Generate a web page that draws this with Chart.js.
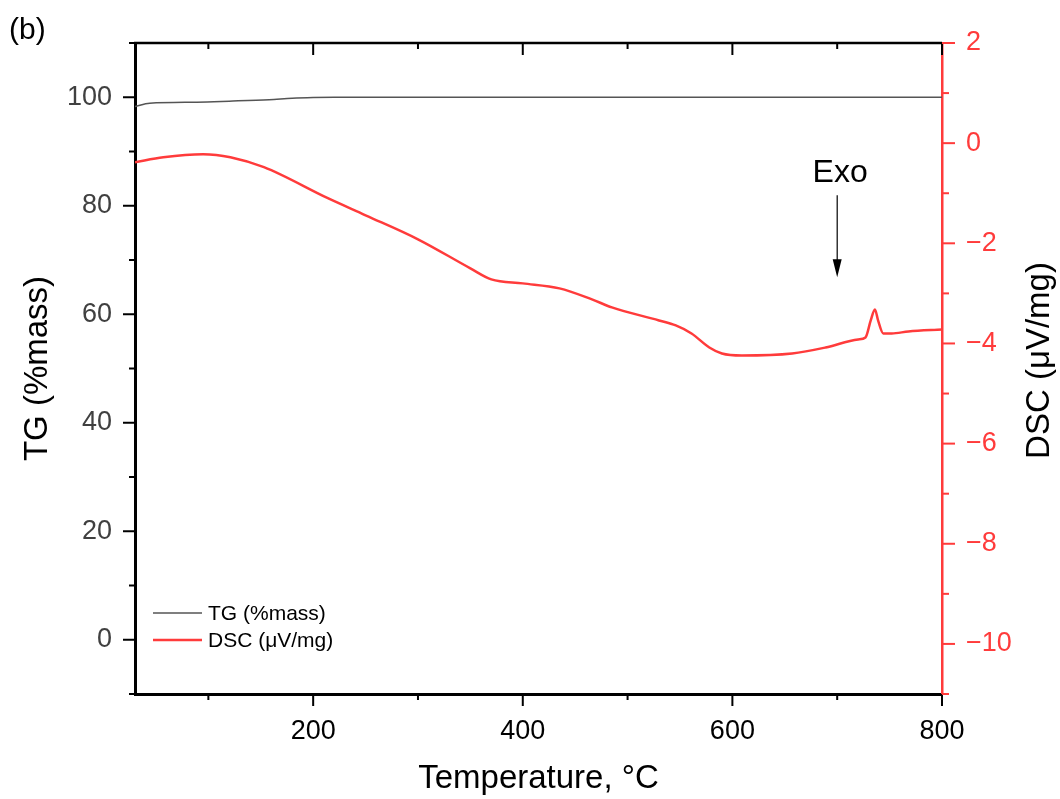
<!DOCTYPE html>
<html>
<head>
<meta charset="utf-8">
<script src="https://cdn.jsdelivr.net/npm/chart.js@4.4.0/dist/chart.umd.min.js"></script>
<style>
    body { margin: 0; background: #fff; }
</style>
</head>
<body>
<canvas id="idChartThermal" width="1060" height="799"></canvas>
<script>
// TG curve (temperature in °C, mass in %)
var aTgTemp = [30, 44, 89, 120, 158, 180, 200, 220, 300, 400, 500, 600, 700, 800];
var aTgMass = [98.3, 98.9, 99.1, 99.28, 99.55, 99.82, 99.95, 100, 100, 100, 100, 100, 100, 100];

// DSC curve (temperature in °C, signal in µV/mg)
var aDscTemp = [30, 57, 95, 121, 153, 214, 250, 300, 350, 370, 400, 435, 466, 485, 530, 546, 561, 578, 590, 609, 657, 689, 720, 727, 732, 736, 739, 744, 752, 768, 800];
var aDscVal = [-0.38, -0.28, -0.22, -0.28, -0.48, -1.1, -1.44, -1.92, -2.5, -2.72, -2.8, -2.9, -3.12, -3.28, -3.54, -3.64, -3.8, -4.08, -4.2, -4.24, -4.2, -4.08, -3.92, -3.88, -3.54, -3.32, -3.54, -3.8, -3.8, -3.76, -3.72];

// axis ranges
var aTempRange = [30, 800];
var aTgRange = [-10, 110];
var aDscRange = [-11, 2];

// "Exo" arrow annotation, in data units (x: °C, y: DSC axis)
var fExoTemp = 700;
var fExoTextY = -0.78;
var fExoFromY = -1.04;
var fExoToY = -2.68;

var sRed = '#ff3b3b';
var sFont = '"Liberation Sans", Arial, sans-serif';

function toPoints(aX, aY) {
    var aData = [];
    for (var i = 0; i < aX.length; i++) {
        aData.push({ x: aX[i], y: aY[i] });
    }
    return aData;
}

function minusLabel(v) {
    return v < 0 ? '\u2212' + Math.abs(v) : String(v);
}

// ticks, frame, legend and annotations
const framePlugin = {
    id: 'frame',
    afterDraw: function (chart) {
        const ctx = chart.ctx;
        const area = chart.chartArea;
        const sx = chart.scales.x;
        const sy = chart.scales.y;
        const sy2 = chart.scales.y2;
        var v, p, len;

        ctx.save();
        ctx.lineCap = 'butt';

        // top frame line
        ctx.strokeStyle = '#000';
        ctx.lineWidth = 2.5;
        ctx.beginPath();
        ctx.moveTo(area.left - 1, area.top);
        ctx.lineTo(area.right, area.top);
        ctx.stroke();

        // x ticks (bottom outward, top inward)
        ctx.lineWidth = 2;
        for (v = 100; v <= 800; v += 100) {
            p = sx.getPixelForValue(v);
            len = (v % 200 === 0) ? 12 : 6;
            ctx.beginPath();
            ctx.moveTo(p, area.bottom);
            ctx.lineTo(p, area.bottom + len);
            ctx.moveTo(p, area.top);
            ctx.lineTo(p, area.top + len);
            ctx.stroke();
        }

        // left y ticks
        for (v = -10; v <= 110; v += 10) {
            p = sy.getPixelForValue(v);
            len = (v % 20 === 0) ? 12 : 6;
            ctx.beginPath();
            ctx.moveTo(area.left, p);
            ctx.lineTo(area.left - len, p);
            ctx.stroke();
        }

        // right y ticks
        ctx.strokeStyle = sRed;
        for (v = -11; v <= 2; v += 1) {
            p = sy2.getPixelForValue(v);
            len = (v % 2 === 0) ? 13 : 7;
            ctx.beginPath();
            ctx.moveTo(area.right, p);
            ctx.lineTo(area.right + len, p);
            ctx.stroke();
        }

        // right axis title, reading bottom to top
        ctx.fillStyle = '#000';
        ctx.font = '33px ' + sFont;
        ctx.textAlign = 'center';
        ctx.textBaseline = 'middle';
        ctx.translate(1040, (area.top + area.bottom) / 2 - 8);
        ctx.rotate(-Math.PI / 2);
        ctx.fillText('DSC (\u03bcV/mg)', 0, 0);
        ctx.setTransform(1, 0, 0, 1, 0, 0);

        // panel letter
        ctx.textAlign = 'left';
        ctx.textBaseline = 'alphabetic';
        ctx.font = '30px ' + sFont;
        ctx.fillText('(b)', 9, 39);

        // legend
        ctx.font = '21px ' + sFont;
        ctx.textBaseline = 'middle';
        chart.data.datasets.forEach(function (ds, i) {
            var yy = 613 + i * 27;
            ctx.strokeStyle = ds.borderColor;
            ctx.lineWidth = ds.borderWidth;
            ctx.beginPath();
            ctx.moveTo(153, yy);
            ctx.lineTo(202, yy);
            ctx.stroke();
            ctx.fillStyle = '#000';
            ctx.fillText(ds.label, 208, yy + 1);
        });

        // Exo arrow
        var ax = sx.getPixelForValue(fExoTemp);
        var ay1 = sy2.getPixelForValue(fExoFromY);
        var ay2 = sy2.getPixelForValue(fExoToY);
        ctx.strokeStyle = '#000';
        ctx.fillStyle = '#000';
        ctx.lineWidth = 1.2;
        ctx.beginPath();
        ctx.moveTo(ax, ay1);
        ctx.lineTo(ax, ay2 - 12);
        ctx.stroke();
        ctx.beginPath();
        ctx.moveTo(ax - 4.5, ay2 - 18);
        ctx.lineTo(ax + 4.5, ay2 - 18);
        ctx.lineTo(ax, ay2);
        ctx.closePath();
        ctx.fill();

        ctx.font = '32px ' + sFont;
        ctx.textAlign = 'center';
        ctx.textBaseline = 'alphabetic';
        ctx.fillText('Exo', ax + 3, sy2.getPixelForValue(fExoTextY));

        ctx.restore();
    }
};

function initChartThermal() {

    const data = {
        datasets: [{
            label: 'TG (%mass)',
            borderColor: '#555555',
            backgroundColor: '#555555',
            borderWidth: 1.5,
            yAxisID: 'y',
            data: toPoints(aTgTemp, aTgMass)
        }, {
            label: 'DSC (\u03bcV/mg)',
            borderColor: sRed,
            backgroundColor: sRed,
            borderWidth: 2.5,
            yAxisID: 'y2',
            data: toPoints(aDscTemp, aDscVal)
        }]
    };

    const config = {
        type: 'line',
        data: data,
        options: {
            responsive: false,
            animation: false,
            events: [],
            layout: {
                padding: { top: 43, left: 0, right: 0, bottom: 0 }
            },
            elements: {
                point: { radius: 0 },
                line: { cubicInterpolationMode: 'monotone' }
            },
            plugins: {
                legend: { display: false },
                tooltip: { enabled: false }
            },
            scales: {
                x: {
                    type: 'linear',
                    position: 'bottom',
                    min: aTempRange[0],
                    max: aTempRange[1],
                    afterFit: function (scale) { scale.height = 105; },
                    grid: { display: false },
                    border: { display: true, color: '#000', width: 3 },
                    ticks: {
                        stepSize: 100,
                        autoSkip: false,
                        maxRotation: 0,
                        padding: 13,
                        color: '#000',
                        font: { size: 27, family: sFont },
                        callback: function (v) { return (v % 200 === 0) ? String(v) : ''; }
                    },
                    title: {
                        display: true,
                        text: 'Temperature, \u00b0C',
                        color: '#000',
                        padding: 0,
                        font: { size: 33, family: sFont }
                    }
                },
                y: {
                    type: 'linear',
                    position: 'left',
                    min: aTgRange[0],
                    max: aTgRange[1],
                    afterFit: function (scale) { scale.width = 135; },
                    grid: { display: false },
                    border: { display: true, color: '#000', width: 3 },
                    ticks: {
                        stepSize: 10,
                        autoSkip: false,
                        padding: 15,
                        color: '#404040',
                        font: { size: 27, family: sFont },
                        callback: function (v) { return (v % 20 === 0) ? String(v) : ''; }
                    },
                    title: {
                        display: true,
                        text: 'TG (%mass)',
                        color: '#000',
                        padding: 18,
                        font: { size: 33, family: sFont }
                    }
                },
                y2: {
                    type: 'linear',
                    position: 'right',
                    min: aDscRange[0],
                    max: aDscRange[1],
                    afterFit: function (scale) { scale.width = 118; },
                    grid: { display: false },
                    border: { display: true, color: sRed, width: 2.5 },
                    ticks: {
                        stepSize: 1,
                        autoSkip: false,
                        padding: 16,
                        color: sRed,
                        font: { size: 27, family: sFont },
                        callback: function (v) { return (v % 2 === 0) ? minusLabel(v) : ''; }
                    }
                }
            }
        },
        plugins: [framePlugin]
    };

    const oChartThermal = new Chart(
        document.getElementById('idChartThermal'),
        config
    );
}

initChartThermal();
</script>
</body>
</html>
